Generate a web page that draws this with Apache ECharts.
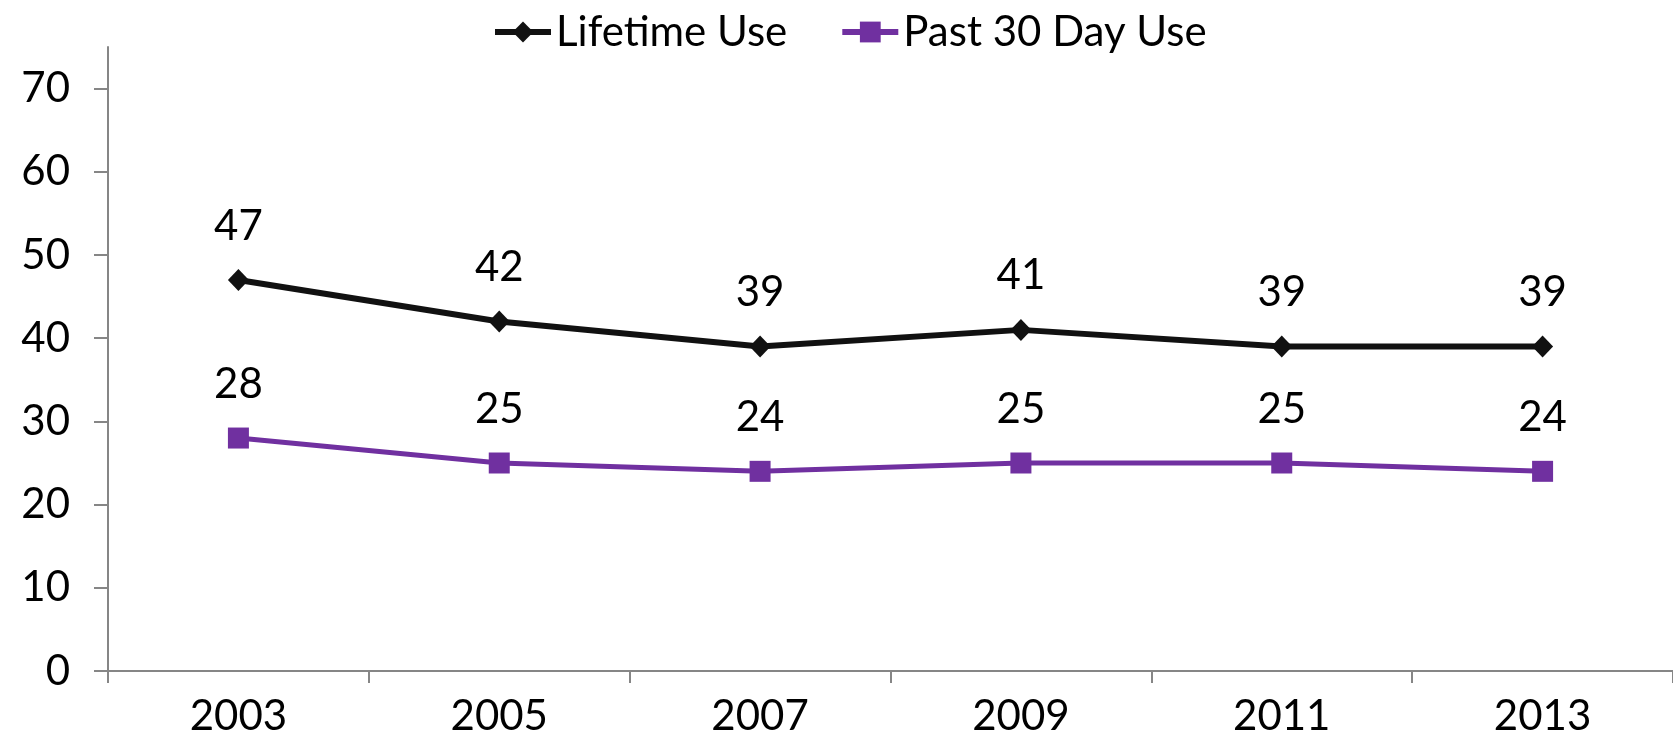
<!DOCTYPE html>
<html>
<head>
    <meta charset="utf-8">
    <script src="https://cdn.jsdelivr.net/npm/echarts@6/dist/echarts.min.js"></script>
    <style>
        html, body { margin: 0; padding: 0; background: #fff; }
    </style>
</head>
<body>
<div id="main" style="width: 1673px;height:746px;"></div>
<script type="text/javascript">
    // data
    var years = ['2003', '2005', '2007', '2009', '2011', '2013'];
    var lifetimeUse = [47, 42, 39, 41, 39, 39];
    var past30DayUse = [28, 25, 24, 25, 25, 24];
    var yTicks = [0, 10, 20, 30, 40, 50, 60, 70];

    var myChart = echarts.init(document.getElementById('main'));
    var font = 'Lato';
    var axisGrey = '#868686';

    var option = {
        animation: false,
        textStyle: { fontFamily: font },
        legend: {
            top: 6,
            left: 487,
            itemWidth: 56,
            itemHeight: 26,
            itemGap: 52,
            textStyle: { fontSize: 42, color: '#000', fontFamily: font },
            lineStyle: { width: 6 },
            data: ['Lifetime Use', 'Past 30 Day Use']
        },
        grid: {
            left: 108,
            right: -7,
            top: 47,
            bottom: 75,
            containLabel: false
        },
        xAxis: {
            type: 'category',
            data: years,
            boundaryGap: true,
            axisLine: { lineStyle: { color: axisGrey, width: 2 } },
            axisTick: { show: true, length: 12, lineStyle: { color: axisGrey, width: 2 } },
            axisLabel: { fontSize: 42, color: '#000', margin: 24, fontFamily: font }
        },
        yAxis: {
            type: 'value',
            min: 0,
            max: 75,
            interval: 10,
            splitLine: { show: false },
            axisLine: { show: true, lineStyle: { color: axisGrey, width: 2 } },
            axisTick: { show: true, length: 14, customValues: yTicks, lineStyle: { color: axisGrey, width: 2 } },
            axisLabel: { fontSize: 42, color: '#000', margin: 38, customValues: yTicks, fontFamily: font }
        },
        series: [
            {
                name: 'Lifetime Use',
                type: 'line',
                data: lifetimeUse,
                symbol: 'diamond',
                symbolSize: [21, 22],
                itemStyle: { color: '#111' },
                lineStyle: { color: '#111', width: 6 },
                label: { show: true, position: 'top', distance: 22, fontSize: 42, color: '#000', fontFamily: font }
            },
            {
                name: 'Past 30 Day Use',
                type: 'line',
                data: past30DayUse,
                symbol: 'rect',
                symbolSize: 21,
                itemStyle: { color: '#7030A0' },
                lineStyle: { color: '#7030A0', width: 5 },
                label: { show: true, position: 'top', distance: 22, fontSize: 42, color: '#000', fontFamily: font }
            }
        ]
    };

    myChart.setOption(option);
</script>
</body>
</html>
